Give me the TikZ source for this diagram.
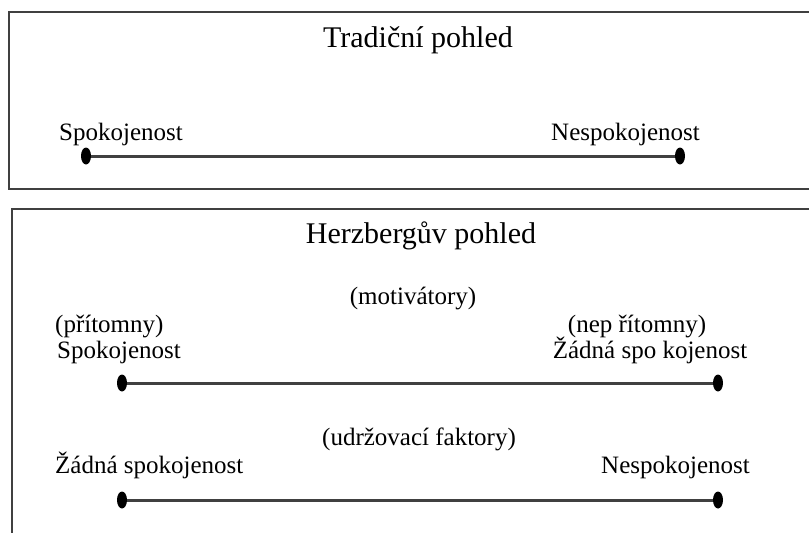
\documentclass[tikz,border=0pt]{standalone}
\usepackage{fontspec}
\setmainfont{Liberation Serif}
\usetikzlibrary{shapes.geometric}
\begin{document}
\begin{tikzpicture}[x=1pt,y=-1pt,
  frame/.style={draw=black!75,line width=2.2pt},
  lbl/.style={inner sep=0pt,font=\fontsize{25}{29}\selectfont},
  ttl/.style={inner sep=0pt,anchor=base,font=\fontsize{30}{34}\selectfont},
  dot/.style={ellipse,fill=black,inner sep=0pt,minimum width=10pt,minimum height=17pt},
  axis/.style={draw=black!75,line width=3pt}]
\useasboundingbox (0,0) rectangle (809,533);
\clip (0,0) rectangle (809,533);
\draw[frame] (9,12) rectangle (830,189);
\draw[frame] (12,209) rectangle (830,560);
% top
\node[ttl] (t1) at (418,47) {Tradiční pohled};
\node[lbl,anchor=base west] (s1) at (59,140) {Spokojenost};
\node[lbl,anchor=base east] (n1) at (700,140) {Nespokojenost};
\node[dot] (a1) at (86,156) {};
\node[dot] (b1) at (680,156) {};
\draw[axis] (a1) -- (b1);
% bottom
\node[ttl] (t2) at (421,243) {Herzbergův pohled};
\node[lbl,anchor=base] (m2) at (413,304) {(motivátory)};
\node[lbl,anchor=base west] (p2) at (55,332) {(přítomny)};
\node[lbl,anchor=base west] (s2) at (57,358) {Spokojenost};
\node[lbl,anchor=base] (np2) at (637,332) {(nep řítomny)};
\node[lbl,anchor=base] (z2) at (650,358) {Žádná spo kojenost};
\node[dot] (a2) at (122,383) {};
\node[dot] (b2) at (718,383) {};
\draw[axis] (a2) -- (b2);
\node[lbl,anchor=base] (u2) at (419,445) {(udržovací faktory)};
\node[lbl,anchor=base west] (z3) at (55,473) {Žádná spokojenost};
\node[lbl,anchor=base east] (n3) at (750,473) {Nespokojenost};
\node[dot] (a3) at (122,500) {};
\node[dot] (b3) at (718,500) {};
\draw[axis] (a3) -- (b3);
\end{tikzpicture}
\end{document}
